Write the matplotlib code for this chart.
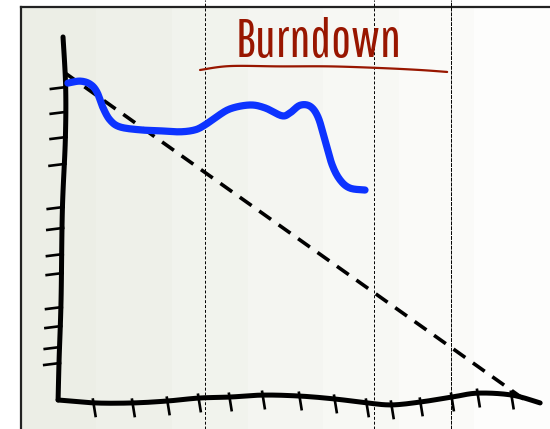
import numpy as np
import matplotlib
matplotlib.use("Agg")
import matplotlib.pyplot as plt

# burndown data (days, story points)
actual_days = [0.09, 0.46, 0.76, 0.97, 1.16, 1.37, 1.67, 2.28, 2.89, 3.50, 3.96, 4.26, 4.56,
               5.02, 5.63, 6.09, 6.60, 6.85, 7.15, 7.46, 7.70, 7.91, 8.13, 8.37, 8.67, 9.13]
actual_points = [96.9, 97.5, 96.6, 94.2, 89.3, 85.6, 83.5, 82.6, 82.3, 82.0, 82.6, 84.1, 86.2,
                 89.0, 90.2, 89.3, 86.9, 87.8, 90.1, 89.8, 86.5, 79.5, 71.9, 67.3, 64.8, 64.2]
ideal_days = [0, 14]
ideal_points = [100, 0]
week_marks = [4.26, 9.40, 11.75]

# hand drawn axes
yaxis_x = [-0.06, 0.02, 0.01, -0.08, -0.12, -0.18, -0.21]
yaxis_y = [111.0, 95.7, 79.5, 58.1, 30.6, 12.2, 0.0]
xaxis_x = [-0.21, 0.91, 2.07, 3.13, 4.08, 5.02, 6.03, 7.15, 8.22, 9.19, 9.95, 10.83, 11.78, 12.57, 13.60, 14.46]
xaxis_y = [0.0, -0.9, -0.9, -0.3, 0.6, 0.9, 1.5, 1.2, 0.3, -0.9, -1.5, -0.6, 0.9, 2.1, 1.5, -0.9]
ytick_pos = [95.7, 88.1, 80.4, 72.2, 59.0, 52.6, 44.6, 38.8, 28.4, 22.6, 16.2, 11.3]
xtick_pos = [0.88, 2.07, 3.13, 4.08, 5.02, 6.03, 7.15, 8.22, 9.19, 9.95, 10.83, 11.78, 12.57, 13.60]

title = "Burndown"
underline_x = [4.11, 5.02, 6.54, 8.07, 9.59, 10.80, 11.63]
underline_y = [100.9, 102.1, 102.0, 102.0, 101.5, 100.9, 100.3]


def smooth(xs, ys, n=12):
    '''Catmull-Rom curve through the given points, for a hand drawn look.'''
    p = np.column_stack([xs, ys]).astype(float)
    p = np.vstack([p[0], p, p[-1]])
    out = []
    for i in range(1, len(p) - 2):
        p0, p1, p2, p3 = p[i - 1], p[i], p[i + 1], p[i + 2]
        for t in np.linspace(0, 1, n, endpoint=False):
            out.append(0.5 * (2 * p1 + (p2 - p0) * t + (2 * p0 - 5 * p1 + 4 * p2 - p3) * t ** 2
                              + (3 * p1 - p0 - 3 * p2 + p3) * t ** 3))
    out.append(p[-2])
    out = np.array(out)
    return out[:, 0], out[:, 1]


fig = plt.figure(figsize=(5.5, 4.29), dpi=100)

# background panel with banded gradient
bg = fig.add_axes([21/550, 0, 1 - 21/550, 1 - 7/429])
c0 = np.array([236, 238, 230]) / 255
c1 = np.array([253, 253, 252]) / 255
t = np.linspace(0, 1, 7)
band = c0 + (c1 - c0) * t[:, None]
bg.imshow(band[None, :, :], aspect="auto", extent=[0, 1, 0, 1], interpolation="nearest")
bg.set_xlim(0, 1)
bg.set_ylim(0, 1)
bg.set_xticks([])
bg.set_yticks([])
for s in ("right", "bottom"):
    bg.spines[s].set_visible(False)
for s in ("left", "top"):
    bg.spines[s].set_linewidth(1.6)
    bg.spines[s].set_color("#222222")

ax = fig.add_axes([0, 0, 1, 1])
ax.patch.set_alpha(0)
ax.set_xlim(-1.978, 14.76)
ax.set_ylim(-8.87, 122.3)
ax.axis("off")

for i, d in enumerate(week_marks):
    ls = (0, (4, 1)) if i == len(week_marks) - 1 else (0, (3, 2))
    ax.axvline(d, color="black", lw=0.7, linestyle=ls, zorder=1)

ax.plot(ideal_days, ideal_points, color="black", lw=2.6, dashes=(4.0, 2.6), zorder=2)

# axes lines
ax.plot(*smooth(yaxis_x, yaxis_y), color="black", lw=3.6, solid_capstyle="round", zorder=3)
ax.plot(*smooth(xaxis_x, xaxis_y), color="black", lw=3.6, solid_capstyle="round", zorder=3)
for yt in ytick_pos:
    x0 = np.interp(yt, yaxis_y[::-1], yaxis_x[::-1])
    ax.plot([x0 + 0.03, x0 - 0.45], [yt, yt - 0.6], color="black", lw=1.9, zorder=3)
for xt in xtick_pos:
    y0 = np.interp(xt, xaxis_x, xaxis_y)
    ax.plot([xt - 0.03, xt + 0.05], [y0 + 1.0, y0 - 4.0], color="black", lw=1.9, zorder=3)

ax.plot(*smooth(actual_days, actual_points), color="#0d33ff", lw=5.2, solid_capstyle="round",
        solid_joinstyle="round", zorder=4)

ax.text(7.73, 104.9, title, ha="center", va="baseline", fontsize=38, color="#981600",
        family="Pathway Gothic One", zorder=5)
ax.plot(*smooth(underline_x, underline_y), color="#981600", lw=1.6, solid_capstyle="round", zorder=5)

fig.savefig("out.png", dpi=100)
